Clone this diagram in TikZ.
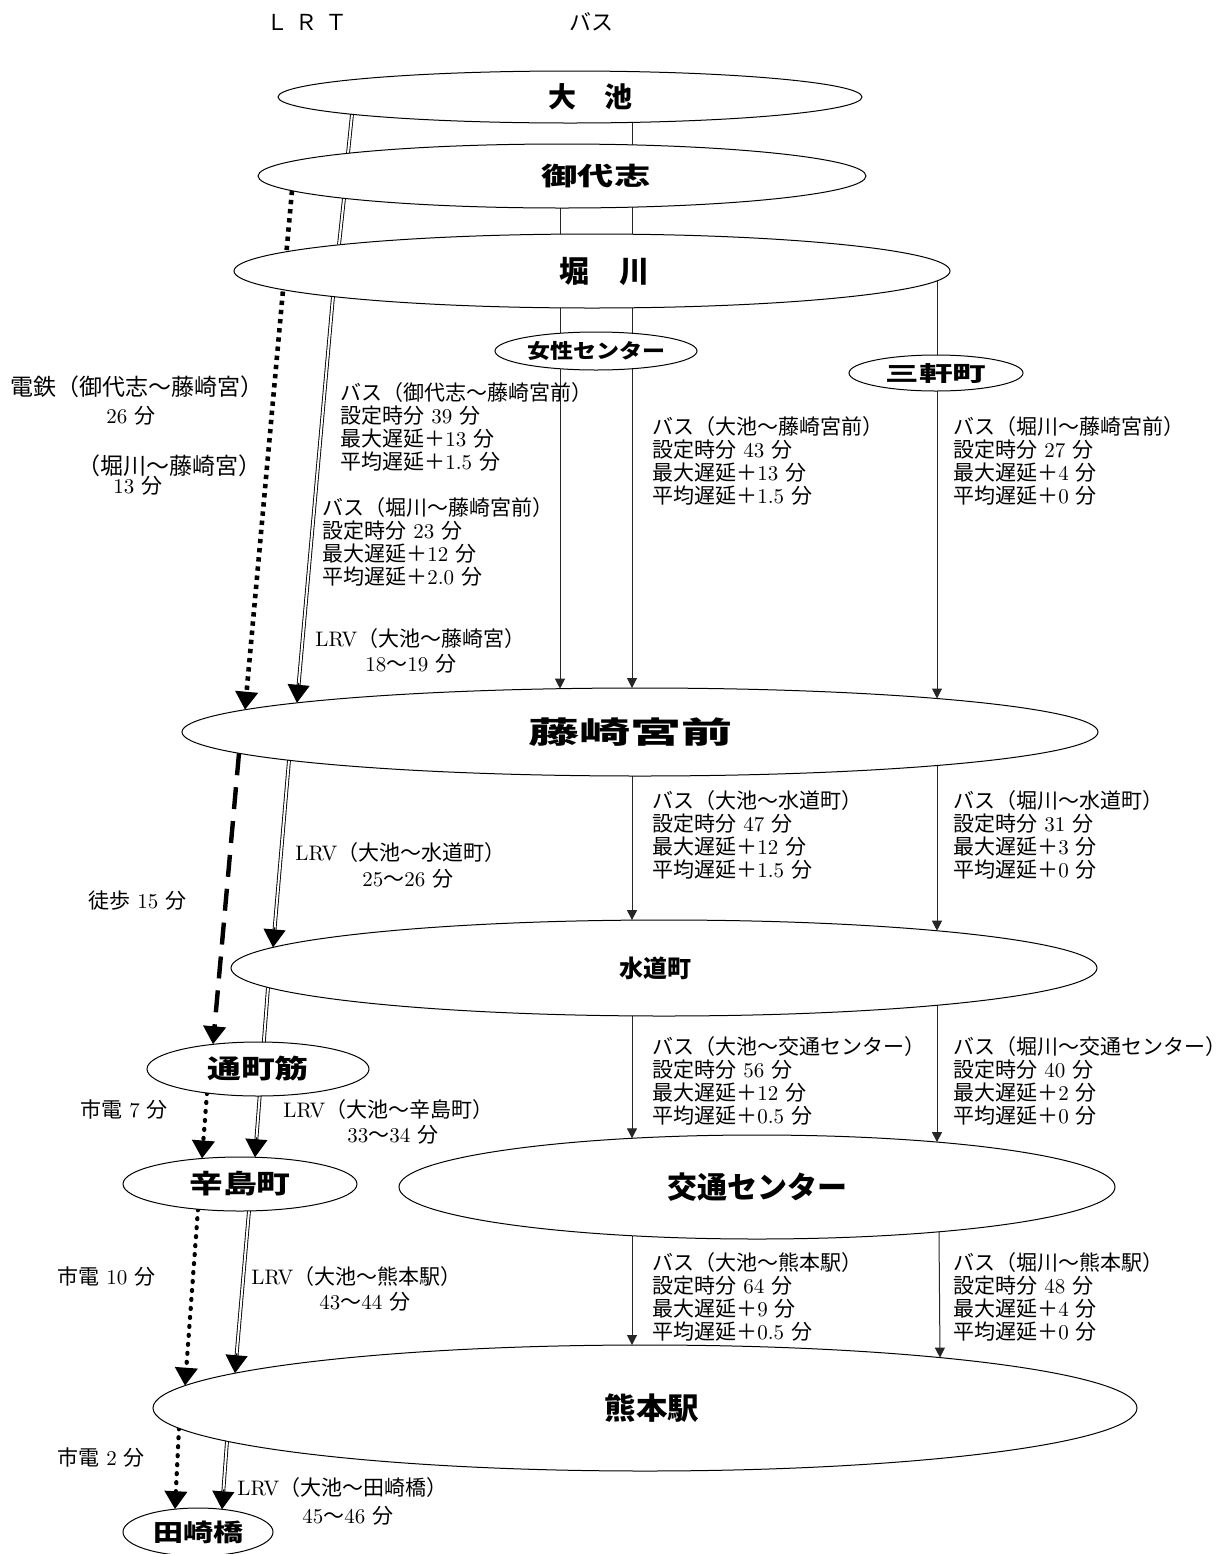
\documentclass[tikz,border=0pt]{standalone}
\usepackage{fontspec}
\usepackage{graphicx}
\newfontfamily\cjk{Noto Sans CJK JP}
\usetikzlibrary{arrows.meta,shapes.geometric,calc}
\pgfdeclarelayer{bg}
\pgfsetlayers{bg,main}
\newcommand\J[1]{{\cjk #1}}
\newcommand\busblk[4]{\J{バス（#1）}\\\J{設定時分} #2 \J{分}\\\J{最大遅延＋}#3 \J{分}\\\J{平均遅延＋}#4 \J{分}}
\newcommand\stfont[1]{\fontsize{#1}{#1}\selectfont\cjk\bfseries}
\tikzset{
  st/.style={ellipse, draw, fill=white, line width=0.5pt, inner sep=0pt, outer sep=0pt},
  lbl/.style={anchor=west, inner sep=0pt, font=\fontsize{10.5}{11.5}\selectfont},
  blk/.style={anchor=north west, align=left, inner sep=0pt, font=\fontsize{10.5}{11.5}\selectfont},
  bus/.style={line width=0.5pt, draw=black!85},
  busarr/.style={bus, -{Triangle[width=5pt,length=5pt]}},
  lrtline/.style={line width=0.45pt, double=white, double distance=1pt},
  bighead/.style={line width=0.5pt, -{Triangle[width=11pt,length=9pt]}},
  sqdot/.style={line width=2.3pt, dash pattern=on 2.2pt off 2.4pt, -{Triangle[width=11pt,length=9pt]}},
  walkdash/.style={line width=2.2pt, dash pattern=on 11pt off 6pt, -{Triangle[width=11pt,length=9pt]}},
  rdot/.style={line width=2.1pt, line cap=round, dash pattern=on 0.5pt off 4pt, -{Triangle[width=11pt,length=9pt]}}
}
% LRT connectors: node, offset, node, offset
\newcommand\lrt[4]{\path ($(#1)+(#2)$) coordinate (ls) ($(#3)+(#4)$) coordinate (le);
  \draw[lrtline] (ls) -- (le);}
\newcommand\lrtA[4]{\path ($(#1)+(#2)$) coordinate (ls) ($(#3)+(#4)$) coordinate (le);
  \draw[lrtline, shorten >=7pt] (ls) -- (le);
  \draw[bighead] ($(le)!10pt!(ls)$) -- (le);}
\begin{document}
\begin{tikzpicture}[x=0.5pt, y=-0.5pt]
\useasboundingbox (0,0) rectangle (1226,1554);
\begin{pgfonlayer}{bg}
\fill[white] (0,0) rectangle (1226,1554);
\end{pgfonlayer}

% stations (minimum width in pt = x radius in px, minimum height in pt = y radius in px)
\node[st, minimum width=292pt, minimum height=26pt, font=\stfont{14}] (oike) at (570,97) {\hspace*{20pt}大　池};
\node[st, minimum width=304pt, minimum height=32pt, font=\stfont{12.5}] (miyoshi) at (562,176) {\hspace*{34pt}\scalebox{1.45}[1]{御代志}};
\node[st, minimum width=358pt, minimum height=37pt, font=\stfont{15}] (horikawa) at (592,271) {\hspace*{12pt}堀　川};
\node[st, minimum width=101pt, minimum height=19pt, font=\stfont{10}] (josei) at (596,351) {\scalebox{1.15}[1]{女性センター}};
\node[st, minimum width=87pt, minimum height=18pt, font=\stfont{10.5}] (sanken) at (936,373) {\scalebox{1.6}[1]{三軒町}};
\node[st, minimum width=458pt, minimum height=44pt, font=\stfont{15}] (fujisaki) at (640,732) {\scalebox{1.7}[1]{藤崎宮前}\hspace*{10pt}};
\node[st, minimum width=433pt, minimum height=48pt, font=\stfont{12}] (suido) at (664,968) {水道町\hspace*{9pt}};
\node[st, minimum width=111pt, minimum height=27pt, font=\stfont{13}] (tori) at (258,1069) {\scalebox{1.3}[1]{通町筋}};
\node[st, minimum width=117pt, minimum height=27pt, font=\stfont{13}] (karashima) at (240,1184) {\scalebox{1.3}[1]{辛島町}};
\node[st, minimum width=358pt, minimum height=52pt, font=\stfont{15}] (kotsu) at (757,1187) {交通センター};
\node[st, minimum width=492pt, minimum height=63pt, font=\stfont{15}] (kumamoto) at (645,1408) {\hspace*{7pt}\scalebox{1.05}[1]{熊本駅}};
\node[st, minimum width=75pt, minimum height=24pt, font=\stfont{12}] (tasaki) at (198,1532) {\scalebox{1.25}[1]{田崎橋}};

% headers
\node[inner sep=0pt, font=\fontsize{11}{12}\selectfont] (hlrt) at (307,22) {\J{Ｌ}\hspace{4pt}\J{Ｒ}\hspace{4pt}\J{Ｔ}};
\node[inner sep=0pt, font=\fontsize{11}{12}\selectfont] (hbus) at (591,22) {\J{バス}};

% connectors
\begin{pgfonlayer}{bg}
% bus
\draw[bus] ($(oike)+(62,25.4)$) -- ($(miyoshi)+(70,-31.1)$);
\draw[bus] ($(miyoshi)+(70,31.1)$) -- ($(horikawa)+(40,-36.8)$);
\draw[bus] ($(miyoshi)+(-2,32)$) -- ($(horikawa)+(-32,-36.9)$);
\draw[busarr] ($(horikawa)+(-32,36.9)$) -- ($(fujisaki)+(-80,-43.3)$);
\draw[busarr] ($(horikawa)+(40,36.8)$) -- ($(fujisaki)+(-8,-44)$);
\draw[busarr] ($(horikawa)+(345,9.9)$) -- ($(fujisaki)+(297,-33.5)$);
\draw[busarr] ($(fujisaki)+(-8,44)$) -- ($(suido)+(-32,-47.9)$);
\draw[busarr] ($(fujisaki)+(297,33.5)$) -- ($(suido)+(273,-37.3)$);
\draw[busarr] ($(suido)+(-32,47.9)$) -- ($(kotsu)+(-125,-48.7)$);
\draw[busarr] ($(suido)+(273,37.3)$) -- ($(kotsu)+(180,-44.9)$);
\draw[busarr] ($(kotsu)+(-125,48.7)$) -- ($(kumamoto)+(-13,-63)$);
\draw[busarr] ($(kotsu)+(182,44.8)$) -- ($(kumamoto)+(295,-50.4)$);
% LRT
\lrt{oike}{-218,17.3}{miyoshi}{-214,-22.7}
\lrt{miyoshi}{-218,22.3}{horikawa}{-253,-26.2}
\lrtA{horikawa}{-259,25.5}{fujisaki}{-343,-29.2}
\lrtA{fujisaki}{-351,28.3}{suido}{-391,-20.6}
\lrtA{suido}{-396,19.4}{karashima}{15,-26.8}
\lrtA{karashima}{9,26.9}{kumamoto}{-410,-34.8}
\lrtA{kumamoto}{-418,33.2}{tasaki}{24,-22.7}
% rail / walk
\draw[sqdot] ($(miyoshi)+(-270,14.7)$) -- ($(fujisaki)+(-395,-22.3)$);
\draw[walkdash] ($(fujisaki)+(-401,21.3)$) -- ($(tori)+(-45,-24.7)$);
\draw[rdot] ($(tori)+(-51,24.0)$) -- ($(karashima)+(-38,-25.5)$);
\draw[rdot] ($(karashima)+(-42,25.2)$) -- ($(kumamoto)+(-460,-22.3)$);
\draw[rdot] ($(kumamoto)+(-466,20.2)$) -- ($(tasaki)+(-23,-22.8)$);
\end{pgfonlayer}

% labels
\node[lbl, font=\fontsize{11.5}{12}\selectfont] (t1) at (10,387) {\J{電鉄（御代志〜藤崎宮）}};
\node[lbl] (t2) at (106,416) {26 \J{分}};
\node[lbl, font=\fontsize{11.5}{12}\selectfont] (t3) at (77,466) {\J{（堀川〜藤崎宮）}};
\node[lbl] (t4) at (113,486) {13 \J{分}};
\node[blk] (b1) at (340,382) {\busblk{御代志〜藤崎宮前}{39}{13}{1.5}};
\node[blk] (b2) at (322,497) {\busblk{堀川〜藤崎宮前}{23}{12}{2.0}};
\node[lbl] (l1) at (315,639) {LRV\J{（大池〜藤崎宮）}};
\node[lbl] (l1b) at (365,664) {18\J{〜}19 \J{分}};
\node[blk] (b3) at (652,416) {\busblk{大池〜藤崎宮前}{43}{13}{1.5}};
\node[blk] (b4) at (953,416) {\busblk{堀川〜藤崎宮前}{27}{4}{0}};
\node[blk] (b5) at (652,790) {\busblk{大池〜水道町}{47}{12}{1.5}};
\node[blk] (b6) at (953,790) {\busblk{堀川〜水道町}{31}{3}{0}};
\node[lbl] (l2) at (295,853) {LRV\J{（大池〜水道町）}};
\node[lbl] (l2b) at (362,879) {25\J{〜}26 \J{分}};
\node[lbl] (w) at (88,901) {\J{徒歩} 15 \J{分}};
\node[blk] (b7) at (652,1036) {\busblk{大池〜交通センター}{56}{12}{0.5}};
\node[blk] (b8) at (953,1036) {\busblk{堀川〜交通センター}{40}{2}{0}};
\node[lbl] (s7) at (80,1110) {\J{市電} 7 \J{分}};
\node[lbl] (l3) at (283,1110) {LRV\J{（大池〜辛島町）}};
\node[lbl] (l3b) at (347,1135) {33\J{〜}34 \J{分}};
\node[lbl] (s10) at (57,1277) {\J{市電} 10 \J{分}};
\node[lbl] (l4) at (251,1277) {LRV\J{（大池〜熊本駅）}};
\node[lbl] (l4b) at (319,1302) {43\J{〜}44 \J{分}};
\node[blk] (b9) at (652,1252) {\busblk{大池〜熊本駅}{64}{9}{0.5}};
\node[blk] (b10) at (953,1252) {\busblk{堀川〜熊本駅}{48}{4}{0}};
\node[lbl] (s2) at (57,1458) {\J{市電} 2 \J{分}};
\node[lbl] (l5) at (237,1488) {LRV\J{（大池〜田崎橋）}};
\node[lbl] (l5b) at (302,1516) {45\J{〜}46 \J{分}};
\end{tikzpicture}
\end{document}
